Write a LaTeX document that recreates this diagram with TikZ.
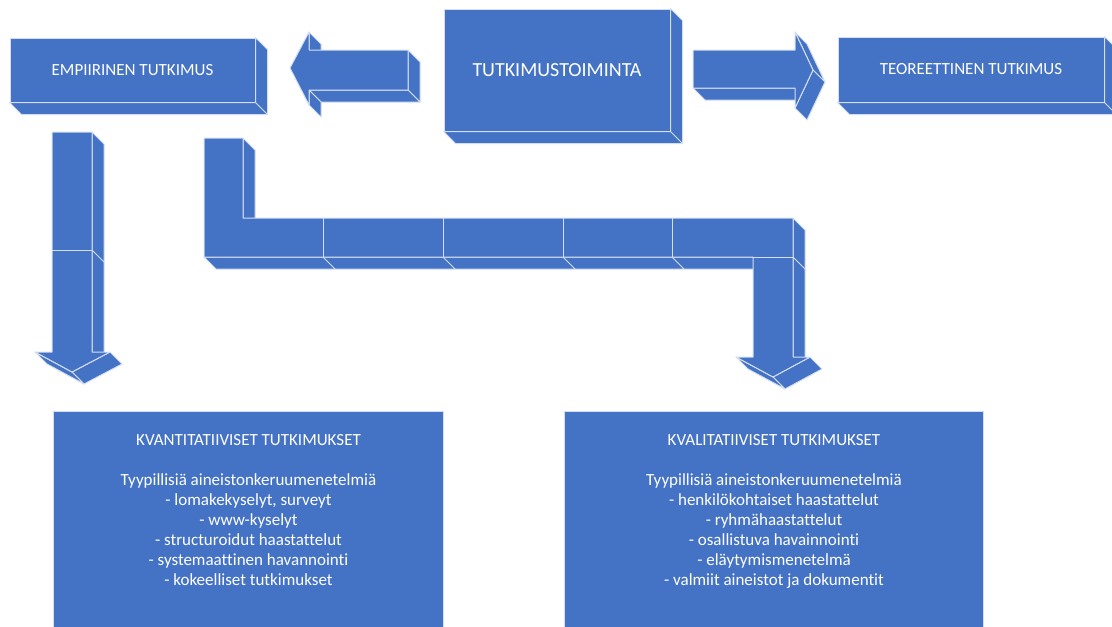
\documentclass[tikz,border=0pt]{standalone}
\usepackage{fontspec}
\setmainfont{Carlito}[Ligatures=NoCommon]
\usepackage{xcolor}
\usetikzlibrary{positioning,backgrounds}

\definecolor{boxblue}{HTML}{4472C4}
\definecolor{edgeline}{HTML}{D3DEF2}

\begin{document}
\begin{tikzpicture}[
  x=1pt, y=-1pt,
  face/.style={fill=boxblue, draw=edgeline, line width=1pt, line join=round},
  seam/.style={draw=edgeline, line width=1pt},
  block/.style={face, rectangle, text=white, align=center, inner sep=0pt},
  infobox/.style={face, rectangle, inner sep=0pt},
  infotext/.style={text=white, align=center, inner sep=0pt, font=\fontsize{17}{20}\selectfont}
]
\useasboundingbox (0,0) rectangle (1112,627);
\clip (0,0) rectangle (1112,627);

% TOP ROW
\node[block, minimum width=245, minimum height=64, font=\fontsize{17}{19}\selectfont] (empiir) at (132.5,70) {EMPIIRINEN TUTKIMUS};
\node[block, minimum width=226, minimum height=122, font=\fontsize{20}{22}\selectfont] (toiminta) at (557,70) {TUTKIMUSTOIMINTA};
\node[block, minimum width=266, minimum height=65, font=\fontsize{17}{19}\selectfont] (teoreet) at (971,69.5) {TEOREETTINEN TUTKIMUS};

% BOTTOM ROW
\node[infobox, minimum width=390, minimum height=240, anchor=north west] (kvanti) at (53,411) {};
\node[infobox, minimum width=419, minimum height=240, anchor=north west] (kvali) at (564,411) {};
\node[infotext, below=23.5pt of kvanti.north] (kvantitxt)
  {KVANTITATIIVISET TUTKIMUKSET\\[20pt]
   Tyypillisiä aineistonkeruumenetelmiä\\
   - lomakekyselyt, surveyt\\
   - www-kyselyt\\
   - structuroidut haastattelut\\
   - systemaattinen havannointi\\
   - kokeelliset tutkimukset};
\node[infotext, below=23.5pt of kvali.north] (kvalitxt)
  {KVALITATIIVISET TUTKIMUKSET\\[20pt]
   Tyypillisiä aineistonkeruumenetelmiä\\
   - henkilökohtaiset haastattelut\\
   - ryhmähaastattelut\\
   - osallistuva havainnointi\\
   - eläytymismenetelmä\\
   - valmiit aineistot ja dokumentit};

% BLOCK ARROWS, FRONT
\draw[face] (290,68) -- (309,32) -- (309,50) -- (408,50) -- (408,90) -- (309,90) -- (309,105) -- cycle;
\draw[face] (693,50) -- (795,50) -- (795,32) -- (813,70) -- (795,108) -- (795,88) -- (693,88) -- cycle;
\draw[face] (52,132) -- (92,132) -- (92,352) -- (110,352) -- (72,372) -- (35,352) -- (52,352) -- cycle;
\draw[seam] (52,250) -- (92,250);
\draw[face] (204,138) -- (243,138) -- (243,218) -- (793,218) -- (793,357) -- (810,357)
  -- (773,377) -- (736,357) -- (753,357) -- (753,257) -- (204,257) -- cycle;
\foreach \x in {323,443,563,672}
  \draw[seam] (\x,218) -- (\x,257);
\draw[seam] (753,257) -- (793,257);

% DEPTH FACES
\begin{scope}[on background layer]
  \foreach \n in {empiir,toiminta,teoreet}{
    \draw[face] (\n.north east) -- ++(12,12) -- ([shift={(12,12)}]\n.south east)
      -- ([shift={(12,12)}]\n.south west) -- (\n.south west) -- (\n.south east) -- cycle;
    \draw[seam] (\n.south east) -- ++(12,12);
  }
  % left arrow
  \draw[face] (408,50) -- (420,62) -- (420,102) -- (408,90) -- cycle;
  \draw[face] (309,90) -- (408,90) -- (420,102) -- (321,102) -- cycle;
  \draw[face] (309,32) -- (321,44) -- (321,62) -- (309,50) -- cycle;
  \draw[face] (309,90) -- (321,102) -- (321,117) -- (309,105) -- cycle;
  % right arrow
  \draw[face] (693,88) -- (795,88) -- (807,100) -- (705,100) -- cycle;
  \draw[face] (795,32) -- (807,44) -- (825,82) -- (813,70) -- cycle;
  \draw[face] (813,70) -- (825,82) -- (807,120) -- (795,108) -- cycle;
  % down arrow
  \draw[face] (92,132) -- (104,144) -- (104,364) -- (92,352) -- cycle;
  \draw[seam] (92,250) -- (104,262);
  \draw[face] (110,352) -- (122,364) -- (84,384) -- (72,372) -- cycle;
  \draw[face] (72,372) -- (84,384) -- (47,364) -- (35,352) -- cycle;
  % bent arrow
  \draw[face] (243,138) -- (255,150) -- (255,230) -- (243,218) -- cycle;
  \draw[face] (204,257) -- (753,257) -- (765,269) -- (216,269) -- cycle;
  \foreach \x in {323,443,563,672}
    \draw[seam] (\x,257) -- (\x+12,269);
  \draw[face] (793,218) -- (805,230) -- (805,369) -- (793,357) -- cycle;
  \draw[seam] (793,257) -- (805,269);
  \draw[face] (810,357) -- (822,369) -- (785,389) -- (773,377) -- cycle;
  \draw[face] (773,377) -- (785,389) -- (748,369) -- (736,357) -- cycle;
\end{scope}
\end{tikzpicture}
\end{document}
